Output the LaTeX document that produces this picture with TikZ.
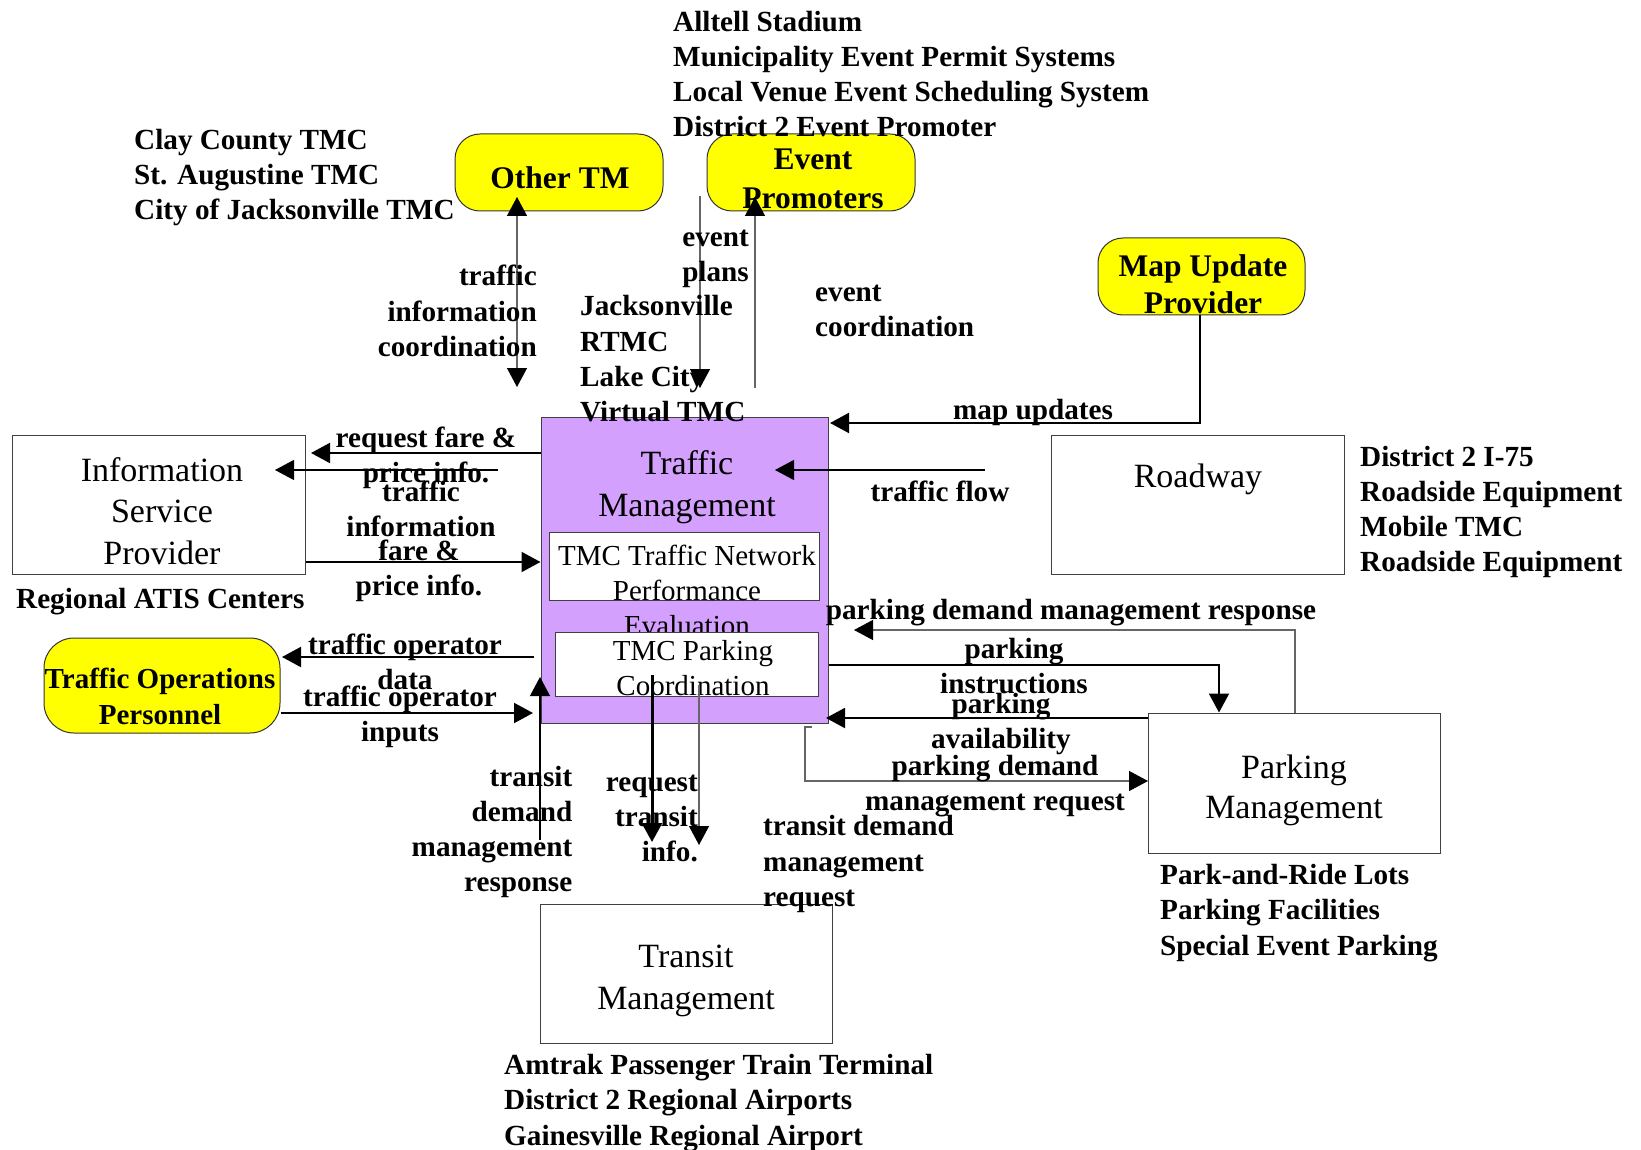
\documentclass[tikz,border=0pt]{standalone}
\usepackage{fontspec}
\setmainfont{Liberation Serif}
\usetikzlibrary{arrows.meta}
\definecolor{tmpurple}{RGB}{211,160,253}
\definecolor{yel}{RGB}{255,255,0}
\tikzset{
  lbl/.style={inner sep=0pt, font=\fontsize{29.2}{35.3}\selectfont\bfseries},
  ybig/.style={inner sep=0pt, font=\fontsize{31.5}{38}\selectfont\bfseries},
  reg/.style={inner sep=0pt, font=\fontsize{34}{41}\selectfont},
  regs/.style={inner sep=0pt, font=\fontsize{29}{35}\selectfont},
  ent/.style={draw=black!75, line width=1pt, fill=white, inner sep=0pt},
  ybox/.style={draw=black!80, line width=1pt, fill=yel, rounded corners=25pt, inner sep=0pt},
  tip/.style={-{Triangle[length=19pt,width=20pt,color=black]}},
  thk/.style={tip, line width=2pt, draw=black},
  thn/.style={tip, line width=1.2pt, draw=black},
  gry/.style={tip, line width=1.3pt, draw=black!60},
}
\begin{document}
\begin{tikzpicture}[x=1pt,y=-1pt]
\path[use as bounding box, fill=white] (0,0) rectangle (1641,1150);

% ---------- boxes ----------
\node[ybox, minimum width=208pt, minimum height=77pt] (othertm) at (559,172.5) {};
\node[ybox, minimum width=208pt, minimum height=77pt] (evp) at (811,172.5) {};
\node[ybox, minimum width=207pt, minimum height=77pt] (map) at (1201.5,276.5) {};
\node[ent, minimum width=292.5pt, minimum height=139pt] (isp) at (158.75,504.5) {};
\node[ybox, rounded corners=30pt, minimum width=236pt, minimum height=95pt] (top) at (162,685.5) {};
\node[draw=black!75, line width=1pt, fill=tmpurple, minimum width=287pt, minimum height=306pt] (tm) at (684.5,570) {};
\node[ent, minimum width=270pt, minimum height=68pt] (net) at (684,566) {};
\node[regs, align=center] (net-t) at (687,590) {TMC Traffic Network\\Performance\\Evaluation};
\node[ent, minimum width=263pt, minimum height=64pt] (park) at (686.5,664) {};
\node[ent, minimum width=293pt, minimum height=139pt] (road) at (1197.5,504.5) {};
\node[ent, minimum width=292pt, minimum height=140pt] (pkm) at (1294.5,783) {};
\node[ent, minimum width=292pt, minimum height=139pt] (trm) at (686,973.5) {};

% ---------- box texts ----------
\node[ybig] (othertm-t) at (560,178) {Other TM};
\node[ybig, align=center, font=\fontsize{31.5}{39}\selectfont\bfseries] (evp-t) at (813,179) {Event\\Promoters};
\node[ybig, align=center, font=\fontsize{31.5}{37}\selectfont\bfseries] (map-t) at (1203,284) {Map Update\\Provider};
\node[reg, align=center, font=\fontsize{34}{41.5}\selectfont] (isp-t) at (162,511) {Information\\Service\\Provider};
\node[lbl, align=center, font=\fontsize{29}{36}\selectfont\bfseries] (top-t) at (160,696) {Traffic Operations\\Personnel};
\node[reg, align=center, font=\fontsize{34}{42}\selectfont] (tm-t) at (687,487.5) {Traffic\\Management};
\node[regs, align=center, font=\fontsize{29}{34.5}\selectfont] (park-t) at (693,668) {TMC Parking\\Coordination};
\node[reg] (road-t) at (1198,479) {Roadway};
\node[reg, align=center, font=\fontsize{34}{40}\selectfont] (pkm-t) at (1294,790) {Parking\\Management};
\node[reg, align=center, font=\fontsize{34}{42}\selectfont] (trm-t) at (686,981) {Transit\\Management};

% ---------- connectors ----------
\coordinate (c1) at (517,197); \coordinate (c2) at (517,387);
\draw[gry, {Triangle[length=19pt,width=20pt,color=black]}-{Triangle[length=19pt,width=20pt,color=black]}] (c2) -- (c1);
\coordinate (ep1) at (700,196); \coordinate (ep2) at (700,388);
\draw[gry] (ep1) -- (ep2);
\coordinate (ec1) at (755,388); \coordinate (ec2) at (755,197);
\draw[gry] (ec1) -- (ec2);
\coordinate (mu1) at (1200,423); \coordinate (mu2) at (830,423);
\draw[thk] (map.south -| mu1) -- (mu1) -- (mu2);
\coordinate (tf1) at (985,470); \coordinate (tf2) at (775,470);
\draw[thn] (tf1) -- (tf2);
\coordinate (rf) at (0,453); \coordinate (rf2) at (311,453);
\draw[thk] (tm.west |- rf) -- (rf2);
\coordinate (ti1) at (498,470); \coordinate (ti2) at (275,470);
\draw[thn] (ti1) -- (ti2);
\coordinate (fp) at (0,562);
\draw[thk] (isp.east |- fp) -- (tm.west |- fp);
\coordinate (tod1) at (534,657); \coordinate (tod2) at (282,657);
\draw[thk] (tod1) -- (tod2);
\coordinate (toi) at (0,713); \coordinate (toi2) at (533,713);
\draw[thk] (top.east |- toi) -- (toi2);
\coordinate (tr1) at (540,840); \coordinate (tr2) at (540,677);
\draw[thn] (tr1) -- (tr2);
\coordinate (rt1) at (652,675); \coordinate (rt2) at (652,842);
\draw[tip, line width=3pt] (rt1) -- (rt2);
\coordinate (ot1) at (699,685); \coordinate (ot2) at (699,845);
\draw[gry] (ot1) -- (ot2);
\coordinate (pr1) at (1295,630); \coordinate (pr2) at (854,630);
\draw[gry] (pkm.north -| pr1) -- (pr1) -- (pr2);
\coordinate (pi1) at (0,665); \coordinate (pi2) at (1219,665);
\draw[thk] (tm.east |- pi1) -- (pi2) -- (pkm.north -| pi2);
\coordinate (pa) at (0,718); \coordinate (pa2) at (826,718);
\draw[thk] (pkm.west |- pa) -- (pa2);
\coordinate (pq0) at (812,727); \coordinate (pq1) at (805,727); \coordinate (pq2) at (805,781);
\draw[gry] (pq0) -- (pq1) -- (pq2) -- (pkm.west |- pq2);

% ---------- labels ----------
\node[lbl, anchor=west, align=left] (toplist) at (673,74) {Alltell Stadium\\Municipality Event Permit Systems\\Local Venue Event Scheduling System\\District 2 Event Promoter};
\node[lbl, anchor=west, align=left] (clay) at (134,177.5) {Clay County TMC\\St. Augustine TMC\\City of Jacksonville TMC};
\node[lbl, anchor=east, align=right] (tic-l) at (537,311) {traffic\\information\\coordination};
\node[lbl, anchor=east, align=right] (ep-l) at (749,259) {event\\plans};
\node[lbl, anchor=west, align=left] (jax) at (580,359) {Jacksonville\\RTMC\\Lake City\\Virtual TMC};
\node[lbl, anchor=west, align=left] (ec-l) at (815,311) {event\\coordination};
\node[lbl] (mu-l) at (1033,412) {map updates};
\node[lbl] (tf-l) at (940,491) {traffic flow};
\node[lbl, align=center] (rf-l) at (426,457.5) {request fare \&\\price info.};
\node[lbl, align=center] (ti-l) at (421,509) {traffic\\information};
\node[lbl, align=center] (fp-l) at (419,571) {fare \&\\price info.};
\node[lbl, align=center] (tod-l) at (405,662) {traffic operator\\data};
\node[lbl, align=center] (toi-l) at (400,717) {traffic operator\\inputs};
\node[lbl] (pdmr-l) at (1071,613) {parking demand management response};
\node[lbl, align=center] (pi-l) at (1014,666) {parking\\instructions};
\node[lbl, align=center] (pa-l) at (1001,724) {parking\\availability};
\node[lbl, align=center] (pdmq-l) at (995,786) {parking demand\\management request};
\node[lbl, anchor=east, align=right] (tdmr-l) at (572.5,832) {transit\\demand\\management\\response};
\node[lbl, anchor=east, align=right] (rti-l) at (698,818.5) {request\\transit\\info.};
\node[lbl, anchor=west, align=left] (tdmq-l) at (763,864) {transit demand\\management\\request};
\node[lbl, anchor=west, align=left] (rw-list) at (1360,512) {District 2 I-75\\Roadside Equipment\\Mobile TMC\\Roadside Equipment};
\node[lbl, anchor=west] (ratis) at (16,602) {Regional ATIS Centers};
\node[lbl, anchor=west, align=left] (pk-list) at (1160,913) {Park-and-Ride Lots\\Parking Facilities\\Special Event Parking};
\node[lbl, anchor=west, align=left] (tr-list) at (504,1103) {Amtrak Passenger Train Terminal\\District 2 Regional Airports\\Gainesville Regional Airport};
\end{tikzpicture}
\end{document}
